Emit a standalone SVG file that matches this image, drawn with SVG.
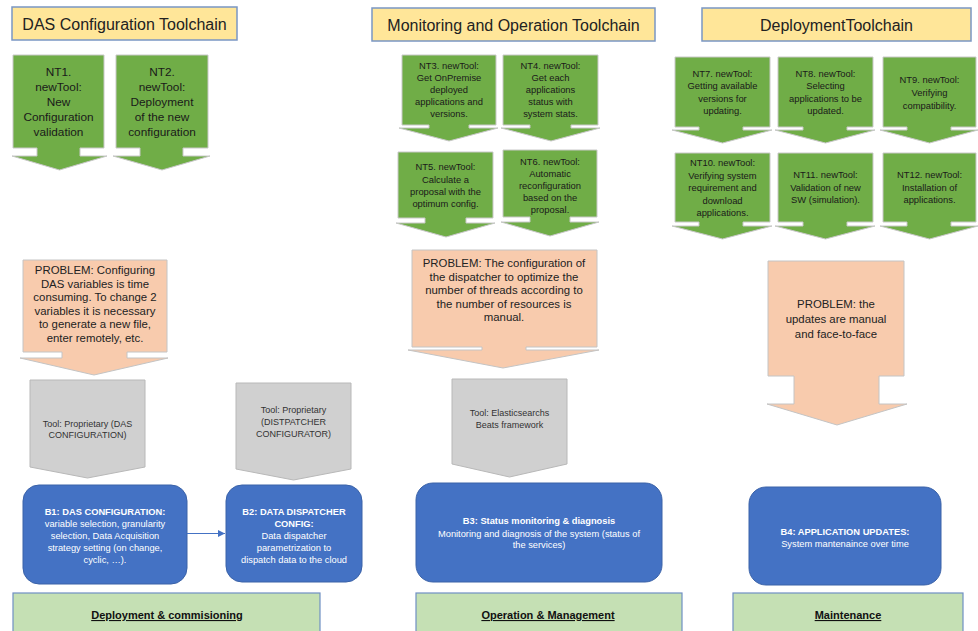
<svg xmlns="http://www.w3.org/2000/svg" width="978" height="631" viewBox="0 0 978 631">
<defs>
<style>
text{font-family:"Liberation Sans",Arial,sans-serif;text-anchor:middle}
.title rect{fill:#ffe699;stroke:#7a96c4;stroke-width:1.5}
.title text{font-size:16px;fill:#222}
.nt path{fill:#70ad47;stroke:#c8c8c8;stroke-width:1}
.nt text{fill:#1a1a1a;font-size:9.4px}
.ntb text{font-size:11.8px}
.prob path{fill:#f8cbad;stroke:#c4c4c4;stroke-width:1}
.prob text{fill:#222;font-size:11.4px}
.tool path{fill:#d0d0d0;stroke:#b8b8b8;stroke-width:1}
.tool text{fill:#333;font-size:9px}
.blk rect{fill:#4472c4;stroke:#3a62a8;stroke-width:1}
.blk text{fill:#fff;font-size:9.3px}
.blk .b{font-weight:bold}
.phase rect{fill:#c5e0b4;stroke:#6f8fc4;stroke-width:1.2}
.phase text{fill:#111;font-size:11px;font-weight:bold;text-decoration:underline}
</style>
<marker id="ah" markerWidth="8" markerHeight="8" refX="7" refY="4" orient="auto" markerUnits="userSpaceOnUse">
<path d="M0,0.5 L7,4 L0,7.5 Z" fill="#4472c4"/>
</marker>
</defs>
<rect width="978" height="631" fill="#fff"/>

<g id="title1" class="title"><rect x="12" y="7" width="225" height="33"/><text x="124.5" y="29.5">DAS Configuration Toolchain</text></g>
<g id="title2" class="title"><rect x="372" y="8" width="283" height="33"/><text x="513.5" y="30.5">Monitoring and Operation Toolchain</text></g>
<g id="title3" class="title"><rect x="702" y="8" width="269" height="33"/><text x="836.5" y="30.5">DeploymentToolchain</text></g>

<g id="nt1" class="nt ntb"><path d="M13,55 H104 V148 H80 V156 H107 L59.5,170 L12,156 H37 V148 H13 Z"/>
<text x="58.5"><tspan x="58.5" y="76">NT1.</tspan><tspan x="58.5" y="91">newTool:</tspan><tspan x="58.5" y="106">New</tspan><tspan x="58.5" y="121">Configuration</tspan><tspan x="58.5" y="136">validation</tspan></text></g>
<g id="nt2" class="nt ntb"><path d="M116,55 H208 V148 H183 V156 H210 L162,170 L113,156 H140 V148 H116 Z"/>
<text x="162"><tspan x="162" y="76">NT2.</tspan><tspan x="162" y="91">newTool:</tspan><tspan x="162" y="106">Deployment</tspan><tspan x="162" y="121">of the new</tspan><tspan x="162" y="136">configuration</tspan></text></g>

<g id="nt3" class="nt"><path d="M402,55 H496 V125 H469 V128 H498 L449,141 L399,128 H429 V125 H402 Z"/>
<text><tspan x="449" y="69">NT3. newTool:</tspan><tspan x="449" y="81">Get OnPremise</tspan><tspan x="449" y="93">deployed</tspan><tspan x="449" y="105">applications and</tspan><tspan x="449" y="117">versions.</tspan></text></g>
<g id="nt4" class="nt"><path d="M503,55 H598 V125 H571 V128 H600 L551,141 L501,128 H530 V125 H503 Z"/>
<text><tspan x="550.5" y="69">NT4. newTool:</tspan><tspan x="550.5" y="81">Get each</tspan><tspan x="550.5" y="93">applications</tspan><tspan x="550.5" y="105">status with</tspan><tspan x="550.5" y="117">system stats.</tspan></text></g>
<g id="nt5" class="nt"><path d="M398,152 H493 V218 H466 V223 H495 L446,237 L396,223 H425 V218 H398 Z"/>
<text><tspan x="445.5" y="170">NT5. newTool:</tspan><tspan x="445.5" y="183">Calculate a</tspan><tspan x="445.5" y="195">proposal with the</tspan><tspan x="445.5" y="207">optimum config.</tspan></text></g>
<g id="nt6" class="nt"><path d="M503,150 H597 V217 H570 V222 H599 L550,236 L501,222 H530 V217 H503 Z"/>
<text><tspan x="550" y="165">NT6. newTool:</tspan><tspan x="550" y="177">Automatic</tspan><tspan x="550" y="189">reconfiguration</tspan><tspan x="550" y="201">based on the</tspan><tspan x="550" y="213">proposal.</tspan></text></g>

<g id="nt7" class="nt"><path d="M675,57 H770 V127 H743 V130 H772 L722.5,143 L672,130 H699 V127 H675 Z"/>
<text><tspan x="722.5" y="77">NT7. newTool:</tspan><tspan x="722.5" y="89.3">Getting available</tspan><tspan x="722.5" y="101.6">versions for</tspan><tspan x="722.5" y="114">updating.</tspan></text></g>
<g id="nt8" class="nt"><path d="M778,57 H873 V127 H847 V130 H875 L825.5,143 L775,130 H803 V127 H778 Z"/>
<text><tspan x="825.5" y="77">NT8. newTool:</tspan><tspan x="825.5" y="89.3">Selecting</tspan><tspan x="825.5" y="101.6">applications to be</tspan><tspan x="825.5" y="114">updated.</tspan></text></g>
<g id="nt9" class="nt"><path d="M883,57 H976 V127 H951 V130 H978 L929.5,143 L880,130 H907 V127 H883 Z"/>
<text><tspan x="929.5" y="83">NT9. newTool:</tspan><tspan x="929.5" y="96">Verifying</tspan><tspan x="929.5" y="109">compatibility.</tspan></text></g>
<g id="nt10" class="nt"><path d="M675,153 H770 V222 H743 V226 H772 L722.5,239 L672,226 H699 V222 H675 Z"/>
<text><tspan x="722.5" y="166">NT10. newTool:</tspan><tspan x="722.5" y="178.5">Verifying system</tspan><tspan x="722.5" y="191">requirement and</tspan><tspan x="722.5" y="203.5">download</tspan><tspan x="722.5" y="216">applications.</tspan></text></g>
<g id="nt11" class="nt"><path d="M778,153 H873 V222 H847 V226 H875 L825.5,239 L775,226 H803 V222 H778 Z"/>
<text><tspan x="825.5" y="178">NT11. newTool:</tspan><tspan x="825.5" y="190.5">Validation of new</tspan><tspan x="825.5" y="203">SW (simulation).</tspan></text></g>
<g id="nt12" class="nt"><path d="M883,153 H976 V222 H951 V226 H978 L929.5,239 L880,226 H907 V222 H883 Z"/>
<text><tspan x="929.5" y="178">NT12. newTool:</tspan><tspan x="929.5" y="190.5">Installation of</tspan><tspan x="929.5" y="203">applications.</tspan></text></g>

<g id="problem1" class="prob"><path d="M23,260 H167 V352 H127 V358 H168 L94,375 L20,358 H62 V352 H23 Z"/>
<text><tspan x="95" y="274">PROBLEM: Configuring</tspan><tspan x="95" y="287.5">DAS variables is time</tspan><tspan x="95" y="301">consuming. To change 2</tspan><tspan x="95" y="314.5">variables it is necessary</tspan><tspan x="95" y="328">to generate a new file,</tspan><tspan x="95" y="341.5">enter remotely, etc.</tspan></text></g>
<g id="problem2" class="prob"><path d="M412,250 H597 V347 H526 V350 H599 L503,368 L408,350 H482 V347 H412 Z"/>
<text><tspan x="504" y="267">PROBLEM: The configuration of</tspan><tspan x="504" y="280.5">the dispatcher to optimize the</tspan><tspan x="504" y="294">number of threads according to</tspan><tspan x="504" y="307.5">the number of resources is</tspan><tspan x="504" y="321">manual.</tspan></text></g>
<g id="problem3" class="prob"><path d="M768,261 H904 V376 H879 V404 H907 L837,425 L767,404 H794 V376 H768 Z"/>
<text><tspan x="836" y="308">PROBLEM: the</tspan><tspan x="836" y="323">updates are manual</tspan><tspan x="836" y="338">and face-to-face</tspan></text></g>

<g id="tool1" class="tool"><path d="M30,380 H145 V467 L87.5,478 L30,467 Z"/>
<text><tspan x="87.5" y="426.5">Tool: Proprietary (DAS</tspan><tspan x="87.5" y="438">CONFIGURATION)</tspan></text></g>
<g id="tool2" class="tool"><path d="M236,383 H351 V469 L293.5,480 L236,469 Z"/>
<text><tspan x="293.5" y="412.5">Tool: Proprietary</tspan><tspan x="293.5" y="425">(DISTPATCHER</tspan><tspan x="293.5" y="436.5">CONFIGURATOR)</tspan></text></g>
<g id="tool3" class="tool"><path d="M452,379 H567 V464 L509.5,477 L452,464 Z"/>
<text><tspan x="509.5" y="416">Tool: Elasticsearchs</tspan><tspan x="509.5" y="427.5">Beats framework</tspan></text></g>

<g id="b1" class="blk"><rect x="23" y="485" width="164" height="99" rx="16"/>
<text><tspan x="105" y="515" class="b">B1: DAS CONFIGURATION:</tspan><tspan x="105" y="527">variable selection, granularity</tspan><tspan x="105" y="539">selection, Data Acquisition</tspan><tspan x="105" y="551">strategy setting (on change,</tspan><tspan x="105" y="563">cyclic, …).</tspan></text></g>
<g id="b2" class="blk"><rect x="226" y="485" width="136" height="97" rx="16"/>
<text><tspan x="294" y="514.5" class="b">B2: DATA DISPATCHER</tspan><tspan x="294" y="526.5" class="b">CONFIG:</tspan><tspan x="294" y="538.5">Data dispatcher</tspan><tspan x="294" y="551">parametrization to</tspan><tspan x="294" y="562.5">dispatch data to the cloud</tspan></text></g>
<g id="b3" class="blk"><rect x="416" y="483" width="246" height="99" rx="17"/>
<text><tspan x="539" y="524" class="b">B3: Status monitoring &amp; diagnosis</tspan><tspan x="539" y="536.5">Monitoring and diagnosis of the system (status of</tspan><tspan x="539" y="548">the services)</tspan></text></g>
<g id="b4" class="blk"><rect x="749" y="487" width="192" height="98" rx="17"/>
<text><tspan x="845" y="535" class="b">B4: APPLICATION UPDATES:</tspan><tspan x="845" y="546.5">System mantenaince over time</tspan></text></g>

<g id="connectors"><line x1="187" y1="533.5" x2="225" y2="533.5" stroke="#4472c4" stroke-width="1.2" marker-end="url(#ah)"/></g>

<g id="phase1" class="phase"><rect x="13" y="593" width="307" height="50"/><text x="167" y="619">Deployment &amp; commisioning</text></g>
<g id="phase2" class="phase"><rect x="416" y="593" width="266" height="50"/><text x="548" y="619">Operation &amp; Management</text></g>
<g id="phase3" class="phase"><rect x="733" y="593" width="230" height="50"/><text x="848" y="619">Maintenance</text></g>
</svg>
